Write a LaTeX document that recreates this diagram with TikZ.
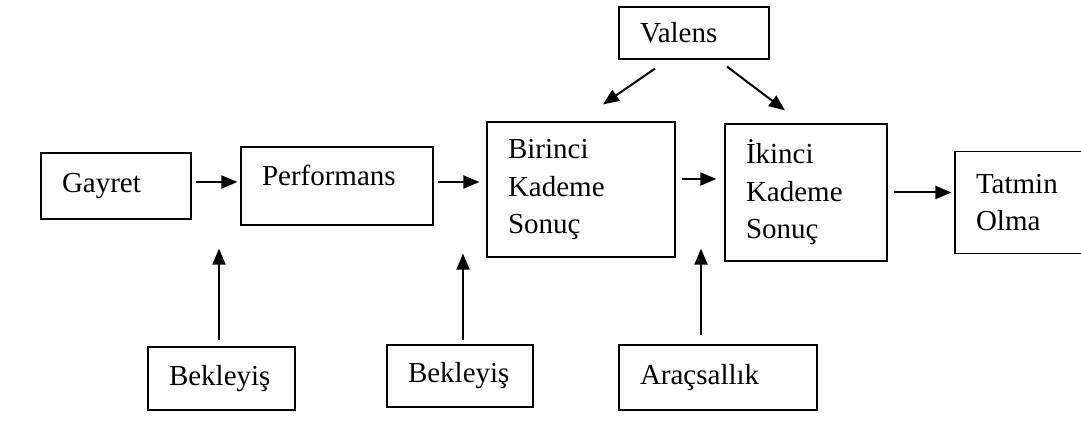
\documentclass[tikz,border=0pt]{standalone}
\usepackage{fontspec}
\setmainfont{Liberation Serif}
\usepackage{tikz}
\usetikzlibrary{arrows.meta}

\begin{document}
\begin{tikzpicture}[x=0.5pt,y=-0.5pt,
  box/.style={draw,line width=0.6pt,inner xsep=10.5pt,inner ysep=0pt,align=left,
    font=\fontsize{14.5pt}{18.75pt}\selectfont},
  arr/.style={line width=1pt,-{Triangle[length=8pt,width=6.5pt]}}]
  \useasboundingbox (0,0) rectangle (1081,442);
  % Main chain
  \node[box,text width=54pt,minimum height=33pt] (gayret) at (116,186) {Gayret};
  \node[box,text width=75pt,minimum height=39pt,text depth=10.5pt] (perf) at (337,186) {Performans};
  \node[box,text width=73pt,minimum height=67.5pt] (birinci) at (581,189.5) {Birinci\\Kademe\\Sonuç};
  \node[box,text width=60pt,minimum height=68.5pt] (ikinci) at (806,192.5) {İkinci\\Kademe\\Sonuç};
  \node[box,text width=51.5pt,minimum height=51pt] (tatmin) at (1027.5,202.5) {Tatmin\\Olma};
  % Top and bottom boxes
  \node[box,text width=54pt,minimum height=26pt] (valens) at (694,33) {Valens};
  \node[box,text width=52.5pt,minimum height=31.5pt] (bek1) at (221.5,378.5) {Bekleyiş};
  \node[box,text width=52pt,minimum height=31pt] (bek2) at (460,376) {Bekleyiş};
  \node[box,text width=78pt,minimum height=32.5pt] (aracs) at (718,377.5) {Araçsallık};
  % Arrows along the chain
  \draw[arr,shorten <=2pt,shorten >=1.5pt] ([yshift=2pt]gayret.east) -- ([yshift=2pt]perf.west);
  \draw[arr,shorten <=2pt,shorten >=3.5pt] ([yshift=2pt]perf.east) -- ([yshift=2pt]perf.east -| birinci.west);
  \draw[arr,shorten <=3pt,shorten >=4pt] ([yshift=5.25pt]birinci.east) -- ([yshift=5.25pt]birinci.east -| ikinci.west);
  \draw[arr,shorten <=3pt,shorten >=1.5pt] (ikinci.east) -- (ikinci.east -| tatmin.west);
  % Valens
  \draw[arr] ([shift={(-19.5pt,-4.5pt)}]valens.south) -- ([shift={(11pt,8.5pt)}]birinci.north);
  \draw[arr] ([shift={(16.5pt,-3.5pt)}]valens.south) -- ([shift={(-10.5pt,6.5pt)}]ikinci.north);
  % From below
  \draw[arr,shorten <=3pt,shorten >=11.5pt] ([xshift=-1.25pt]bek1.north) -- ([xshift=-1.25pt]bek1.north |- perf.south);
  \draw[arr,shorten <=2pt] ([xshift=1.5pt]bek2.north) -- ([xshift=1.5pt,yshift=2pt]bek2.north |- birinci.south);
  \draw[arr,shorten <=4.5pt] ([xshift=-8.5pt]aracs.north) -- ([xshift=-8.5pt,yshift=6.5pt]aracs.north |- ikinci.south);
\end{tikzpicture}
\end{document}
